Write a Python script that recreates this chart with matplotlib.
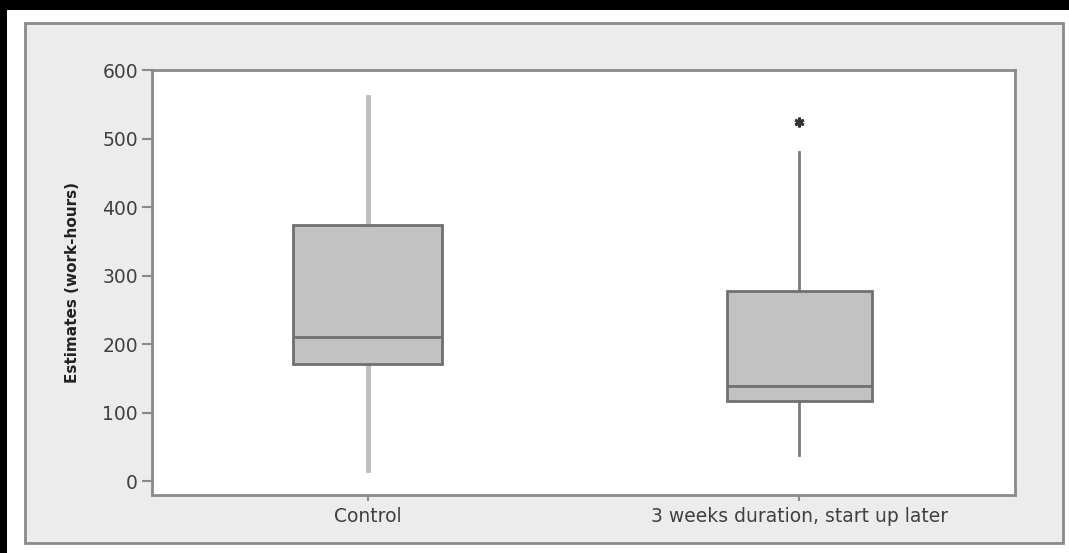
import matplotlib.pyplot as plt
from matplotlib.patches import Rectangle

# Box plot summary values (work-hours)
categories = ['Control', '3 weeks duration, start up later']
q1 = [171, 117]
medians = [210, 139]
q3 = [374, 277]
whisker_low = [16, 39]
whisker_high = [561, 480]
outliers = [[], [524]]
y_ticks = [0, 100, 200, 300, 400, 500, 600]

fig = plt.figure(figsize=(10.69, 5.53), dpi=100)
fig.patch.set_facecolor('white')

# black scan edges and grey outer panel (behind the axes)
fig.patches.append(Rectangle((0, 0.982), 1, 0.018, transform=fig.transFigure,
                             facecolor='black', edgecolor='none', zorder=-2))
fig.patches.append(Rectangle((0, 0), 0.0066, 1, transform=fig.transFigure,
                             facecolor='black', edgecolor='none', zorder=-2))
fig.patches.append(Rectangle((0.0234, 0.0181), 0.971, 0.9403, transform=fig.transFigure,
                             facecolor='#ececec', edgecolor='#8a8a8a', linewidth=2, zorder=-2))

ax = fig.add_axes([152 / 1069, 1 - 495 / 553, (1015 - 152) / 1069, (495 - 70) / 553])
ax.set_facecolor('white')

stats = []
for i in range(len(categories)):
    stats.append({
        'label': categories[i],
        'q1': q1[i], 'med': medians[i], 'q3': q3[i],
        'whislo': whisker_low[i], 'whishi': whisker_high[i],
        'fliers': outliers[i],
    })

edge = '#707070'
bp = ax.bxp(stats, positions=[1, 2], widths=[0.346, 0.336], patch_artist=True,
            showcaps=False,
            boxprops=dict(facecolor='#c2c2c2', edgecolor=edge, linewidth=2),
            medianprops=dict(color=edge, linewidth=2),
            flierprops=dict(marker=(6, 2, 0), markersize=7, markeredgecolor='#333333',
                            markeredgewidth=2))

# whisker styles differ between the two boxes
for w in bp['whiskers'][:2]:
    w.set_color('#bdbdbd')
    w.set_linewidth(3.5)
for w in bp['whiskers'][2:]:
    w.set_color('#7a7a7a')
    w.set_linewidth(2)
for b in bp['boxes']:
    b.set_zorder(3)
for m in bp['medians']:
    m.set_zorder(4)

ax.set_xlim(0.5, 2.5)
ax.set_ylim(-20, 600)
ax.set_yticks(y_ticks)

for s in ax.spines.values():
    s.set_color('#8a8a8a')
    s.set_linewidth(2)

ax.tick_params(axis='both', direction='out', length=7, width=1.5, color='#8a8a8a',
               labelcolor='#404040', labelsize=13.5, pad=3)
ax.tick_params(axis='x', length=4, pad=5)

ax.set_ylabel('Estimates (work-hours)', fontsize=11, fontweight='bold', color='#222222',
              labelpad=16)

fig.savefig('out.png', dpi=100)
